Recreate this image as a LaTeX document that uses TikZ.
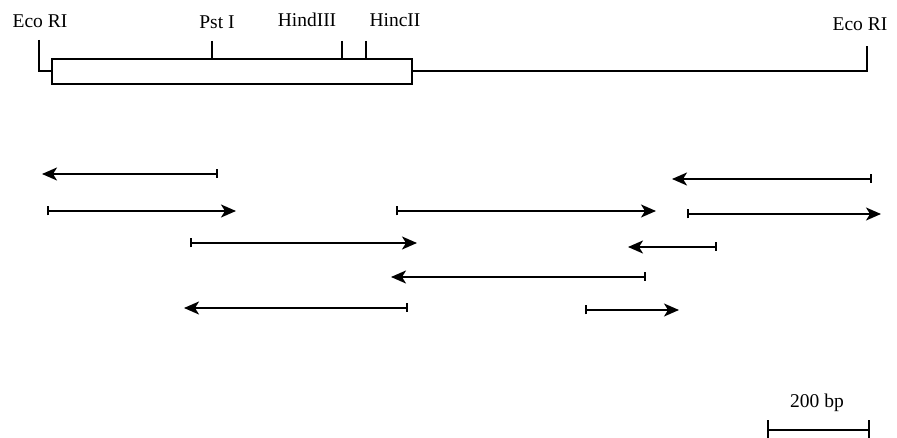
\documentclass[tikz,border=0pt]{standalone}
\usepackage{fontspec}
\setmainfont{Liberation Serif}
\usetikzlibrary{arrows.meta, positioning}
\tikzset{
  x=1pt, y=-1pt, % one unit is one pixel of the figure
  site/.style={font=\fontsize{19.5}{20}\selectfont, anchor=base, inner sep=0pt}, % restriction site labels
  map/.style={line width=1.8pt},
  read/.style={line width=1.7pt, arrows={Bar[width=9pt]-Stealth[length=15pt, width=13pt, inset=4pt]}}, % sequencing runs
  scalebar/.style={line width=1.6pt, arrows={Bar[width=20pt]-Bar[width=20pt]}},
}
\begin{document}
\begin{tikzpicture}
  \useasboundingbox (0,0) rectangle (897,438);

  % restriction map
  \node[map, draw, anchor=north west, minimum width=360pt, minimum height=25pt, inner sep=0pt] (insert) at (51,58) {};
  \coordinate (ecoL) at (39,40);
  \coordinate (pst) at (212,41);
  \coordinate (hind) at (342,41);
  \coordinate (hinc) at (366,41);
  \coordinate (ecoR) at (867,46);

  \draw[map] (ecoL) -- (ecoL |- insert.west) -- (insert.west);
  \draw[map] (pst) -- (pst |- insert.north);
  \draw[map] (hind) -- (hind |- insert.north);
  \draw[map] (hinc) -- (hinc |- insert.north);
  \draw[map] (insert.east) -- (ecoR |- insert.east) -- (ecoR);

  \node[site] (ecoLtext) at (40,28) {Eco RI};
  \node[site] (psttext) at (217,29) {Pst I};
  \node[site] (hindtext) at (307,27) {HindIII};
  \node[site] (hinctext) at (395,27) {HincII};
  \node[site] (ecoRtext) at (860,31) {Eco RI};

  % sequenced fragments: start/end/row
  \foreach \s/\e/\y/\n in {218/42/174/r1, 872/672/179/r2, 47/236/211/r3, 396/656/211/r4,
                           687/881/214/r5, 190/417/243/r6, 717/628/247/r7, 646/391/277/r8,
                           408/184/308/r9, 585/679/310/r10}
  {
    \coordinate (\n s) at (\s,\y);
    \coordinate (\n e) at (\e,\y);
    \draw[read] (\n s) -- (\n e);
  }

  % scale
  \coordinate (barL) at (767,430);
  \coordinate (barR) at (870,430);
  \draw[scalebar] (barL) -- (barR);
  \node[site] (bartext) at (817,407) {200 bp};
\end{tikzpicture}
\end{document}
